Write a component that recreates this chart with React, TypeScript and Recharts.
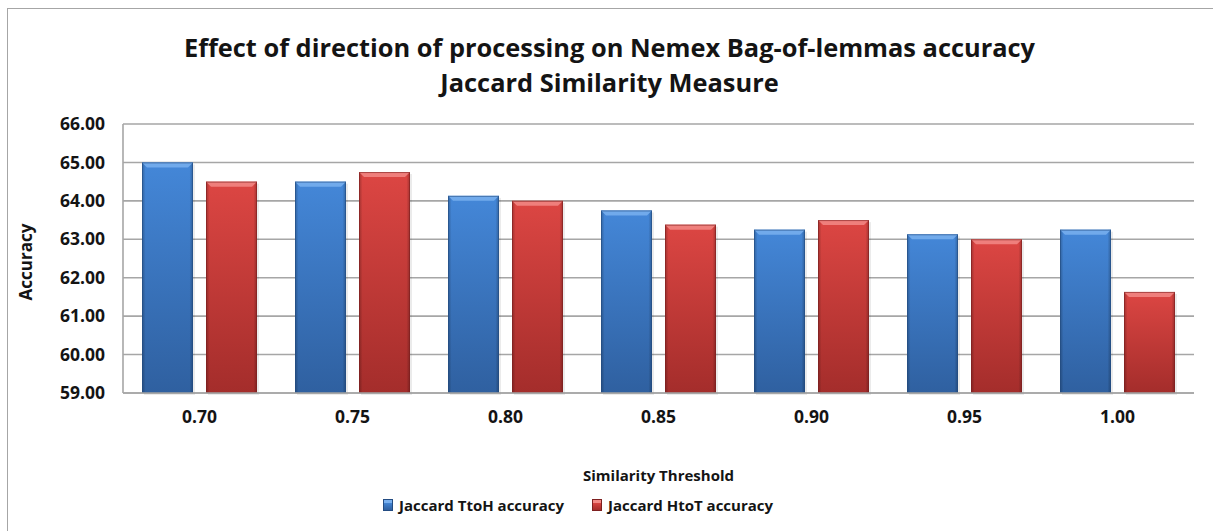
import { BarChart, Bar, XAxis, YAxis, CartesianGrid, Legend, Label } from 'recharts';

const thresholds = ['0.70', '0.75', '0.80', '0.85', '0.90', '0.95', '1.00'];
const ttohAccuracy = [65.0, 64.5, 64.13, 63.75, 63.25, 63.13, 63.25];
const htotAccuracy = [64.5, 64.75, 64.0, 63.38, 63.5, 63.0, 61.63];
const yTicks = [59, 60, 61, 62, 63, 64, 65, 66];
const seriesOrder = ['ttoh', 'htot'];

const data = thresholds.map((t, i) => ({
  threshold: t,
  ttoh: ttohAccuracy[i],
  htot: htotAccuracy[i],
}));

const FONT = '"Open Sans", "DejaVu Sans", sans-serif';
const GRID = '#a6a6a6';
const TEXT = '#141414';

const palette: Record<string, { top: string; bottom: string; bevel: string; edge: string }> = {
  ttoh: { top: '#4487d8', bottom: '#2f60a0', bevel: '#79b0ef', edge: '#234c82' },
  htot: { top: '#dc4643', bottom: '#a42d2b', bevel: '#f28a86', edge: '#7e2020' },
};

// bevelled bar, Office-style
function BevelBar(props: any) {
  const { x, y, width, height, dataKey } = props;
  if (!height || height <= 0) return null;
  const c = palette[dataKey];
  const b = 5;
  return (
    <g>
      <rect x={x + 2} y={y + 2} width={width} height={height} fill="#000" opacity={0.08} />
      <rect x={x} y={y} width={width} height={height} fill={`url(#v-${dataKey})`} />
      <rect x={x} y={y} width={width} height={height} fill="url(#edges)" />
      <polygon
        points={`${x},${y} ${x + width},${y} ${x + width - b},${y + b} ${x + b},${y + b}`}
        fill={c.bevel}
        opacity={0.85}
      />
      <rect x={x + 0.5} y={y + 0.5} width={width - 1} height={height - 1} fill="none" stroke={c.edge} strokeOpacity={0.6} />
    </g>
  );
}

function LegendContent({ payload }: any) {
  const items = [...(payload || [])].sort(
    (a: any, b: any) => seriesOrder.indexOf(a.dataKey) - seriesOrder.indexOf(b.dataKey)
  );
  return (
    <div style={{ display: 'flex', paddingLeft: 383, fontFamily: FONT, fontWeight: 700, fontSize: 15, color: TEXT }}>
      {items.map((p: any) => {
        const c = palette[p.dataKey];
        return (
          <div key={p.dataKey} style={{ display: 'flex', alignItems: 'center', marginRight: 28 }}>
            <span
              style={{
                width: 8,
                height: 10,
                marginRight: 6,
                background: `linear-gradient(${c.bevel} 0 25%, ${c.top} 25%, ${c.bottom})`,
                border: `1px solid ${c.edge}`,
              }}
            />
            <span>{p.value}</span>
          </div>
        );
      })}
    </div>
  );
}

export default function App() {
  return (
    <div style={{ position: 'absolute', left: 0, top: 0, width: 1213, height: 531, background: '#fff', overflow: 'hidden' }}>
      <div style={{ position: 'absolute', left: 7, top: 8, right: -2, bottom: -2, borderTop: `1.5px solid ${GRID}`, borderLeft: `1.5px solid ${GRID}` }} />
      <div style={{ position: 'absolute', left: 0, width: 1219, top: 30, textAlign: 'center', fontFamily: FONT, fontWeight: 700, fontSize: 25.4, lineHeight: '35px', color: TEXT }}>
        <div>Effect of direction of processing on Nemex Bag-of-lemmas accuracy</div>
        <div>Jaccard Similarity Measure</div>
      </div>
      <BarChart
        width={1213}
        height={531}
        data={data}
        margin={{ top: 124, right: 19, bottom: 0, left: 0 }}
        barSize={51}
        barGap={13}
        style={{ position: 'absolute', left: 0, top: 0 }}
      >
        <defs>
          {Object.keys(palette).map((k) => (
            <linearGradient key={k} id={`v-${k}`} x1="0" y1="0" x2="0" y2="1">
              <stop offset="0%" stopColor={palette[k].top} />
              <stop offset="100%" stopColor={palette[k].bottom} />
            </linearGradient>
          ))}
          <linearGradient id="edges" x1="0" y1="0" x2="1" y2="0">
            <stop offset="0%" stopColor="#000" stopOpacity={0.25} />
            <stop offset="7%" stopColor="#000" stopOpacity={0} />
            <stop offset="93%" stopColor="#000" stopOpacity={0} />
            <stop offset="100%" stopColor="#000" stopOpacity={0.25} />
          </linearGradient>
        </defs>
        <CartesianGrid vertical={false} stroke={GRID} strokeWidth={1.6} />
        <XAxis
          dataKey="threshold"
          height={138}
          tickLine={false}
          tickSize={0}
          tickMargin={18}
          axisLine={{ stroke: GRID, strokeWidth: 1.6 }}
          tick={{ fontFamily: FONT, fontWeight: 700, fontSize: 17.5, fill: TEXT }}
        >
          <Label
            value="Similarity Threshold"
            position="insideBottom"
            offset={50}
            style={{ fontFamily: FONT, fontWeight: 700, fontSize: 15, fill: TEXT }}
          />
        </XAxis>
        <YAxis
          width={123}
          domain={[59, 66]}
          ticks={yTicks}
          interval={0}
          tickFormatter={(v: number) => v.toFixed(2)}
          tickLine={false}
          tickSize={0}
          tickMargin={18}
          axisLine={{ stroke: GRID, strokeWidth: 1.6 }}
          tick={{ fontFamily: FONT, fontWeight: 700, fontSize: 17.5, fill: TEXT }}
        >
          <Label
            content={() => (
              <text
                x={25}
                y={262}
                transform="rotate(-90 25 262)"
                textAnchor="middle"
                dominantBaseline="central"
                style={{ fontFamily: FONT, fontWeight: 700, fontSize: 17, fill: TEXT }}
              >
                Accuracy
              </text>
            )}
          />
        </YAxis>
        <Legend
          layout="horizontal"
          verticalAlign="middle"
          align="center"
          wrapperStyle={{ top: 495, left: 0, width: 1213 }}
          content={LegendContent}
        />
        <Bar dataKey="ttoh" name="Jaccard TtoH accuracy" shape={BevelBar} isAnimationActive={false} />
        <Bar dataKey="htot" name="Jaccard HtoT accuracy" shape={BevelBar} isAnimationActive={false} />
      </BarChart>
    </div>
  );
}
